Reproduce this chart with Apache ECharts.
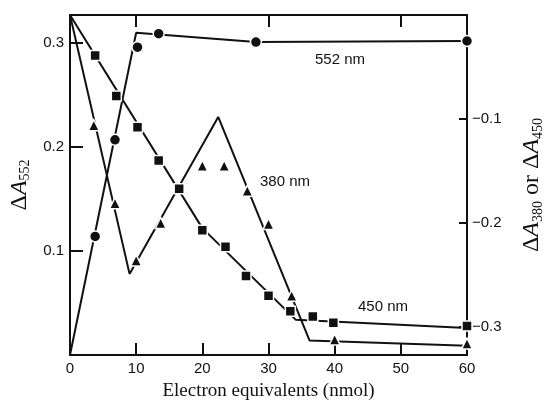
<!DOCTYPE html>
<html>
<head>
<meta charset="utf-8">
<script src="https://cdn.jsdelivr.net/npm/echarts@6/dist/echarts.min.js"></script>
<style>
html,body{margin:0;padding:0;background:#fff;}
#c{width:544px;height:402px;}
</style>
</head>
<body>
<div id="c"></div>
<script>
// ---- data ----
const xTicks = [0, 10, 20, 30, 40, 50, 60];
const topTicks = [10, 30, 50];
const leftTicks = [0.1, 0.2, 0.3];
const rightTicks = [-0.3, -0.2, -0.1];

// 552 nm (left axis): measured points and fitted line
const pts552 = [[3.8, 0.114], [6.8, 0.207], [10.2, 0.296], [13.4, 0.309], [28.1, 0.301], [60, 0.302]];
const fit552 = [[0, 0], [10, 0.310], [28.1, 0.301], [60, 0.302]];

// 450 nm (right axis)
const pts450 = [[3.8, -0.039], [7.0, -0.078], [10.2, -0.108], [13.4, -0.140], [16.5, -0.167], [20.0, -0.207],
                [23.5, -0.223], [26.6, -0.251], [30.0, -0.270], [33.3, -0.285], [36.7, -0.290], [39.8, -0.296], [60, -0.299]];
const fit450 = [[0, 0], [20, -0.205], [34.1, -0.293], [60, -0.301]];

// 380 nm (right axis)
const pts380 = [[3.6, -0.106], [6.8, -0.181], [10.0, -0.236], [13.7, -0.200], [20.0, -0.145], [23.3, -0.145],
                [26.8, -0.169], [30.0, -0.201], [33.5, -0.270], [40.0, -0.312], [60, -0.316]];
const fit380 = [[0, 0], [9.0, -0.249], [22.4, -0.098], [36.2, -0.313], [60, -0.318]];

const labels = [
  {text: '552 nm', x: 315, y: 61},
  {text: '380 nm', x: 260, y: 183},
  {text: '450 nm', x: 358, y: 308}
];

// ---- chart ----
const chart = echarts.init(document.getElementById('c'), null, {renderer: 'canvas'});
const black = '#111';
const sans = 'Liberation Sans';
const serif = 'Liberation Serif';
const axLine = {show: true, onZero: false, lineStyle: {color: black, width: 2}};

function lineSeries(data, yi) {
  return {type: 'line', data: data, yAxisIndex: yi, xAxisIndex: 0, symbol: 'none',
          lineStyle: {color: black, width: 2}, silent: true, z: 2, animation: false};
}
function markSeries(data, yi, sym, size) {
  return {type: 'scatter', data: data, yAxisIndex: yi, xAxisIndex: 0, symbol: sym, symbolSize: size,
          itemStyle: {color: black, borderColor: '#fff', borderWidth: 1.5, opacity: 1},
          clip: false, z: 3, animation: false};
}

const titleRich = {
  d: {fontFamily: serif, fontSize: 24, color: black, lineHeight: 26},
  a: {fontFamily: serif, fontSize: 24, fontStyle: 'italic', color: black, lineHeight: 26},
  s: {fontFamily: serif, fontSize: 14, color: black, lineHeight: 26, verticalAlign: 'bottom', padding: [11, 0, 0, 0]},
  o: {fontFamily: serif, fontSize: 24, color: black, lineHeight: 26}
};

chart.setOption({
  backgroundColor: '#fff',
  animation: false,
  grid: {left: 70, right: 77, top: 15, bottom: 47, containLabel: false, outerBoundsMode: 'none'},
  xAxis: [
    {type: 'value', position: 'bottom', min: 0, max: 60, interval: 10,
     axisLine: axLine, splitLine: {show: false},
     axisTick: {show: true, inside: true, length: 12, lineStyle: {color: black, width: 2}, customValues: [10, 20, 30, 40, 50]},
     axisLabel: {color: black, fontFamily: sans, fontSize: 15, margin: 6, customValues: xTicks},
     name: 'Electron equivalents (nmol)', nameLocation: 'middle', nameGap: 27,
     nameTextStyle: {color: black, fontFamily: serif, fontSize: 19}},
    {type: 'value', position: 'top', min: 0, max: 60, interval: 10,
     axisLine: axLine, splitLine: {show: false},
     axisTick: {show: true, inside: true, length: 12, lineStyle: {color: black, width: 2}, customValues: topTicks},
     axisLabel: {show: false}}
  ],
  yAxis: [
    {type: 'value', position: 'left', min: 0, max: 0.327,
     axisLine: axLine, splitLine: {show: false},
     axisTick: {show: true, inside: true, length: 13, lineStyle: {color: black, width: 2}, customValues: leftTicks},
     axisLabel: {color: black, fontFamily: sans, fontSize: 15, margin: 6, customValues: leftTicks,
                 formatter: v => v.toFixed(1)},
     name: '{d|\u0394}{a|A}{s|552}', nameLocation: 'middle', nameGap: 34, nameRotate: 90,
     nameTextStyle: {rich: titleRich}},
    {type: 'value', position: 'right', min: -0.327, max: 0,
     axisLine: axLine, splitLine: {show: false},
     axisTick: {show: true, inside: true, length: 8, lineStyle: {color: black, width: 2}, customValues: rightTicks},
     axisLabel: {color: black, fontFamily: sans, fontSize: 15, margin: 5, customValues: rightTicks,
                 formatter: v => '\u2212' + Math.abs(v).toFixed(1)},
     name: '{d|\u0394}{a|A}{s|380}{o| or \u0394}{a|A}{s|450}', nameLocation: 'middle', nameGap: 52, nameRotate: 90,
     nameTextStyle: {rich: titleRich}}
  ],
  series: [
    lineSeries(fit552, 0),
    lineSeries(fit450, 1),
    lineSeries(fit380, 1),
    markSeries(pts552, 0, 'circle', 11),
    markSeries(pts450, 1, 'rect', 10),
    markSeries(pts380, 1, 'triangle', 11)
  ],
  graphic: labels.map(l => ({
    type: 'text', left: l.x, top: l.y - 9, silent: true,
    style: {text: l.text, fill: black, font: '15px "Liberation Sans"'}
  }))
});
</script>
</body>
</html>
